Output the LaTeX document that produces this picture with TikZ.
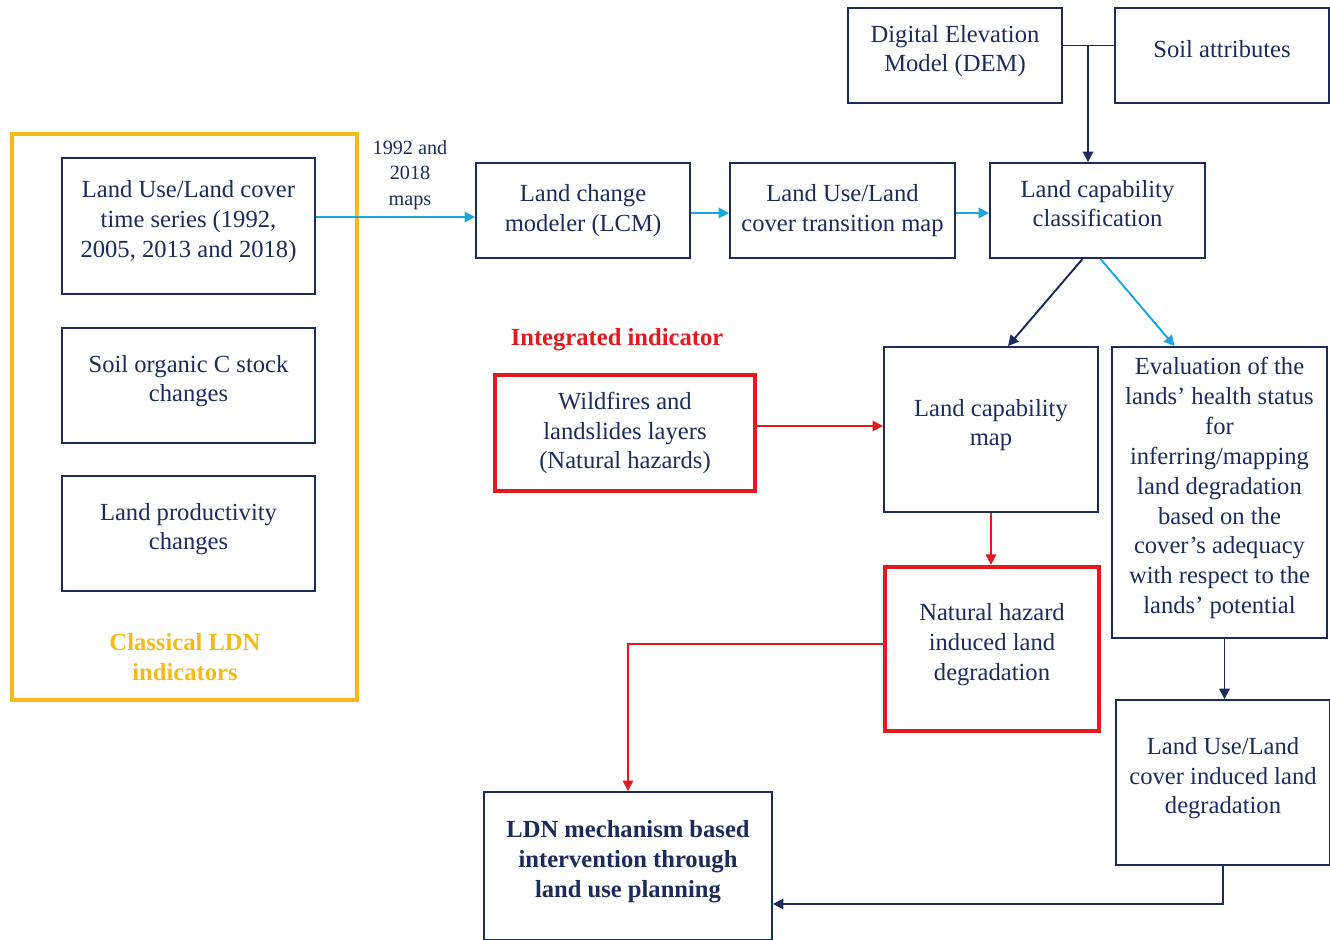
\documentclass[tikz,border=0pt]{standalone}
\usepackage{fontspec}
\setmainfont{Liberation Serif}
\usetikzlibrary{arrows.meta}
\definecolor{navy}{HTML}{1B2C5C}
\definecolor{skyblue}{HTML}{1AA7E0}
\definecolor{hazred}{HTML}{E3191F}
\definecolor{gold}{HTML}{F5BA18}
\newcommand{\lift}{\\[-9pt]}

\begin{document}
\begin{tikzpicture}[x=0.02cm, y=-0.02cm, >={Triangle[width=6pt,length=6pt]}, line width=1.1pt]
    \tikzstyle{box}=[rectangle, draw=navy, line width=1.1pt, text=navy, align=center, inner sep=0pt, font=\fontsize{14}{17}\selectfont]
    \tikzstyle{hazard box}=[box, draw=hazred, line width=2.4pt]
    \tikzstyle{navy arrow}=[->, draw=navy]
    \tikzstyle{blue arrow}=[->, draw=skyblue]
    \tikzstyle{red arrow}=[->, draw=hazred, line width=0.9pt]
    \tikzstyle{annot}=[align=center, font=\fontsize{14}{17}\selectfont\bfseries]

    \useasboundingbox (0,0) rectangle (1330,940);

    % Classical indicators
    \node[draw=gold, line width=2.6pt, minimum width=6.9cm, minimum height=11.32cm] (classical) at (184.5,417) {};
    \node[box, minimum width=5.06cm, minimum height=2.72cm] (lulc) at (188.5,226) {Land Use/Land cover\\time series (1992,\\2005, 2013 and 2018)\lift};
    \node[box, minimum width=5.06cm, minimum height=2.3cm] (soc) at (188.5,385.5) {Soil organic C stock\\changes\lift};
    \node[box, minimum width=5.06cm, minimum height=2.3cm] (prod) at (188.5,533.5) {Land productivity\\changes\lift};
    \node[annot, text=gold] (classlbl) at (185,657) {Classical LDN\\indicators};

    % Top row
    \node[box, minimum width=4.28cm, minimum height=1.9cm] (dem) at (955,55.5) {Digital Elevation\\Model (DEM)\lift};
    \node[box, minimum width=4.28cm, minimum height=1.9cm] (soil) at (1222,55.5) {Soil attributes\lift};
    \node[box, minimum width=4.28cm, minimum height=1.9cm] (lcm) at (583,210.5) {Land change\\modeler (LCM)};
    \node[box, minimum width=4.5cm, minimum height=1.9cm] (trans) at (842.5,210.5) {Land Use/Land\\cover transition map};
    \node[box, minimum width=4.3cm, minimum height=1.9cm] (lcc) at (1097.5,210.5) {Land capability\\classification\lift};
    \node[align=center, text=navy, font=\fontsize{11.5}{14.5}\selectfont] (maps) at (410,175) {1992 and\\2018\\maps};

    % Middle part
    \node[annot, text=hazred] (intlbl) at (617,340) {Integrated indicator};
    \node[hazard box, minimum width=5.2cm, minimum height=2.32cm] (fire) at (625,433) {Wildfires and\\landslides layers\\(Natural hazards)};
    \node[box, minimum width=4.28cm, minimum height=3.3cm] (capmap) at (991,429.5) {Land capability\\map\lift};
    \node[box, minimum width=4.3cm, minimum height=5.82cm] (eval) at (1219.5,492.5) {Evaluation of the\\lands’ health status\\for\\inferring/mapping\\land degradation\\based on the\\cover’s adequacy\\with respect to the\\lands’ potential\lift};
    \node[hazard box, minimum width=4.28cm, minimum height=3.28cm] (nh) at (992,649) {Natural hazard\\induced land\\degradation\lift};
    \node[box, minimum width=4.28cm, minimum height=3.3cm] (lulcind) at (1223,782.5) {Land Use/Land\\cover induced land\\degradation\lift};
    \node[box, font=\fontsize{14}{17}\selectfont\bfseries, minimum width=5.76cm, minimum height=2.96cm] (ldn) at (628,866) {LDN mechanism based\\intervention through\\land use planning\lift};

    % Connections of the top row
    \coordinate (demout) at ([yshift=0.2cm]dem.east);
    \coordinate (junc) at (1088,45);
    \draw[navy] (demout) -- (demout -| soil.west);
    \draw[navy arrow] (junc) -- (junc |- lcc.north);
    \coordinate (tsout) at ([yshift=0.18cm]lulc.east);
    \draw[blue arrow] (tsout) -- (tsout -| lcm.west);
    \draw[blue arrow] ([yshift=-0.05cm]lcm.east) -- ([yshift=-0.05cm]trans.west);
    \draw[blue arrow] ([yshift=-0.05cm]trans.east) -- ([yshift=-0.05cm]lcc.west);

    % From the classification downwards
    \draw[navy arrow] ([xshift=-0.3cm]lcc.south) -- ([xshift=0.34cm]capmap.north);
    \draw[blue arrow] ([xshift=0.06cm]lcc.south) -- ([xshift=-0.9cm]eval.north);
    \draw[red arrow] ([yshift=0.14cm]fire.east) -- ([yshift=0.14cm]fire.east -| capmap.west);
    \draw[red arrow] (capmap.south) -- (capmap.south |- nh.north);
    \draw[red arrow] ([yshift=0.1cm]nh.west) -| (ldn.north);
    \draw[navy arrow] ([xshift=0.1cm]eval.south) -- ([xshift=0.1cm]eval.south |- lulcind.north);
    \draw[navy arrow] (lulcind.south) |- ([yshift=-0.76cm]ldn.east);
\end{tikzpicture}
\end{document}
